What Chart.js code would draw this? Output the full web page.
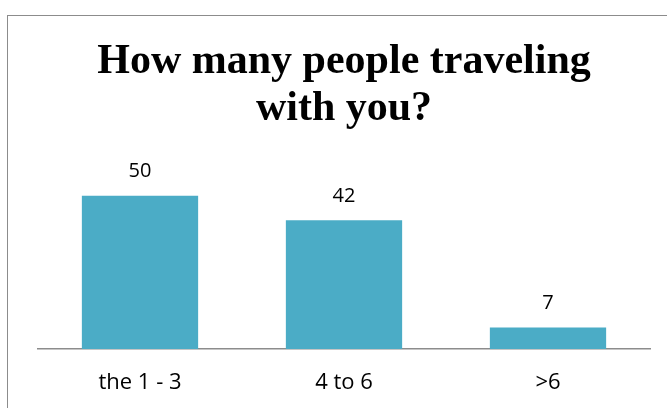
<!DOCTYPE html>
<html>
<head>
<meta charset="utf-8">
<script src="https://cdn.jsdelivr.net/npm/chart.js@4"></script>
<style>
  body { margin: 0; background: #fff; }
  #wrap { position: relative; width: 667px; height: 408px; overflow: hidden; }
  #frame { position: absolute; left: 7px; top: 15px; width: 700px; height: 450px; border: 1px solid #8c8c8c; }
  canvas { position: absolute; left: 0; top: 0; }
</style>
</head>
<body>
<div id="wrap">
  <div id="frame"></div>
  <canvas id="travelChart" width="667" height="408"></canvas>
</div>
<script>
const categories = ['the 1 - 3', '4 to 6', '>6'];
const counts = [50, 42, 7];
const titleLines = ['How many people traveling', 'with you?'];

// draw the value above each bar
const valueLabels = {
    id: 'valueLabels',
    afterDatasetsDraw(chart) {
        const ctx = chart.ctx;
        const meta = chart.getDatasetMeta(0);
        ctx.save();
        ctx.font = '20px "Open Sans", sans-serif';
        ctx.fillStyle = '#000';
        ctx.textAlign = 'center';
        ctx.textBaseline = 'middle';
        meta.data.forEach((bar, i) => {
            ctx.fillText(counts[i], bar.x, bar.y - 24);
        });
        ctx.restore();
    }
};

const ctx = document.getElementById('travelChart').getContext('2d');
new Chart(ctx, {
    type: 'bar',
    data: {
        labels: categories,
        datasets: [{
            data: counts,
            backgroundColor: '#4BACC6',
            categoryPercentage: 1,
            barPercentage: 0.57
        }]
    },
    options: {
        responsive: false,
        animation: false,
        layout: {
            padding: { left: 38, right: 17, top: 0, bottom: 15 }
        },
        plugins: {
            legend: { display: false },
            tooltip: { enabled: false },
            title: {
                display: true,
                text: titleLines,
                color: '#000',
                font: { family: '"Liberation Serif", "Times New Roman", serif', size: 42, weight: 'bold', lineHeight: 1.12 },
                padding: { top: 39, bottom: 32 }
            }
        },
        scales: {
            x: {
                grid: { display: false, drawTicks: false },
                border: { display: true, color: '#8c8c8c', width: 1.5 },
                afterFit(scale) { scale.height = 44; },
                ticks: {
                    color: '#000',
                    padding: 21,
                    font: { family: '"Open Sans", sans-serif', size: 22 }
                }
            },
            y: {
                display: false,
                min: 0,
                max: 60
            }
        }
    },
    plugins: [valueLabels]
});
</script>
</body>
</html>
